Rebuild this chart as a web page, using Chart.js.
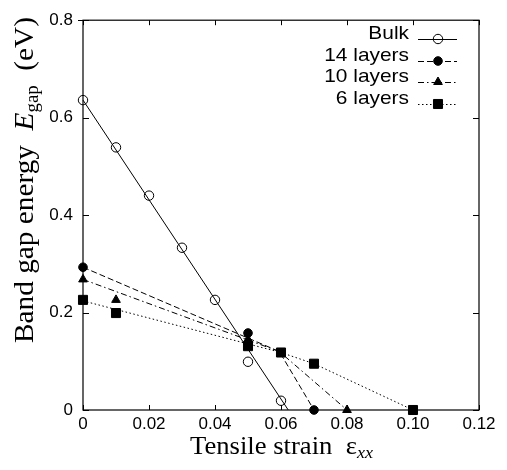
<!DOCTYPE html>
<html><head><meta charset="utf-8">
<script src="https://cdn.jsdelivr.net/npm/chart.js@4/dist/chart.umd.min.js"></script>
<style>html,body{margin:0;padding:0;background:#fff}#wrap{width:507px;height:470px;position:relative}</style>
</head><body><div id="wrap"><canvas id="c"></canvas></div>
<script>
const seriesNames = ['Bulk', '14 layers', '10 layers', '6 layers'];
const bulkStrain = [0, 0.01, 0.02, 0.03, 0.04, 0.05, 0.06];
const bulkGap = [0.636, 0.539, 0.440, 0.333, 0.226, 0.099, 0.019];
const bulkFitStrain = [0, 0.0622];
const bulkFitGap = [0.636, 0];
const l14Strain = [0, 0.05, 0.07];
const l14Gap = [0.293, 0.158, 0];
const l14FitStrain = [0, 0.0595, 0.07];
const l14FitGap = [0.293, 0.12, 0];
const l10Strain = [0, 0.01, 0.05, 0.08];
const l10Gap = [0.268, 0.226, 0.145, 0];
const l10FitStrain = [0, 0.0595, 0.08];
const l10FitGap = [0.268, 0.12, 0];
const l6Strain = [0, 0.01, 0.05, 0.06, 0.07, 0.10];
const l6Gap = [0.226, 0.199, 0.131, 0.118, 0.095, 0];
const l6FitStrain = [0, 0.06, 0.07, 0.10];
const l6FitGap = [0.224, 0.118, 0.095, 0];
const xTickValues = [0, 0.02, 0.04, 0.06, 0.08, 0.10, 0.12];
const xTickLabels = ['0', '0.02', '0.04', '0.06', '0.08', '0.10', '0.12'];
const yTickValues = [0, 0.2, 0.4, 0.6, 0.8];
const yTickLabels = ['0', '0.2', '0.4', '0.6', '0.8'];

const zip = (xs, ys) => xs.map((x, i) => ({x: x, y: ys[i]}));

const styles = [
  {dash: [], pointStyle: 'circle', radius: 4.7, fill: 'rgba(0,0,0,0)'},
  {dash: [6, 3], pointStyle: 'circle', radius: 4.3, fill: '#000'},
  {dash: [6, 3, 1.5, 3], pointStyle: 'triangle', radius: 5, fill: '#000'},
  {dash: [1.5, 2.5], pointStyle: 'rect', radius: 6.4, fill: '#000'}
];
const pts = [zip(bulkStrain, bulkGap), zip(l14Strain, l14Gap), zip(l10Strain, l10Gap), zip(l6Strain, l6Gap)];
const fits = [zip(bulkFitStrain, bulkFitGap), zip(l14FitStrain, l14FitGap), zip(l10FitStrain, l10FitGap), zip(l6FitStrain, l6FitGap)];

const datasets = [];
seriesNames.forEach((name, i) => {
  datasets.push({label: name + ' fit', data: fits[i], showLine: true, pointRadius: 0,
    borderColor: '#000', borderWidth: 1, borderDash: styles[i].dash, fill: false, clip: false});
  datasets.push({label: name, data: pts[i], showLine: false, pointStyle: styles[i].pointStyle,
    pointRadius: styles[i].radius, pointBackgroundColor: styles[i].fill, pointBorderColor: '#000',
    pointBorderWidth: 1, clip: false});
});

function drawRich(ctx, segs, scaleTo) {
  let total = 0;
  segs.forEach(s => { ctx.font = s.font; s.w = ctx.measureText(s.t).width; total += s.w; });
  const k = scaleTo / total;
  ctx.save();
  ctx.scale(k, 1);
  let x = 0;
  segs.forEach(s => { ctx.font = s.font; ctx.fillText(s.t, x, s.dy || 0); x += s.w; });
  ctx.restore();
}

const framePlugin = {
  id: 'frame',
  afterDraw(chart) {
    const ctx = chart.ctx, a = chart.chartArea;
    const xs = chart.scales.x, ys = chart.scales.y;
    ctx.save();
    ctx.strokeStyle = '#000'; ctx.lineWidth = 1.2; ctx.setLineDash([]);
    ctx.strokeRect(a.left, a.top, a.right - a.left, a.bottom - a.top);
    ctx.lineWidth = 1;
    ctx.beginPath();
    xTickValues.forEach(v => {
      const px = Math.round(xs.getPixelForValue(v)) + 0.5;
      ctx.moveTo(px, a.bottom); ctx.lineTo(px, a.bottom - 5);
      ctx.moveTo(px, a.top); ctx.lineTo(px, a.top + 5);
    });
    yTickValues.forEach(v => {
      const py = Math.round(ys.getPixelForValue(v)) + 0.5;
      ctx.moveTo(a.left, py); ctx.lineTo(a.left + 6, py);
      ctx.moveTo(a.right, py); ctx.lineTo(a.right - 6, py);
    });
    const top = Math.round(ys.getPixelForValue(0.8)) + 0.5;
    ctx.moveTo(a.left - 5, top); ctx.lineTo(a.left, top);
    ctx.stroke();

    // legend
    const rowY = [39, 61, 82, 104];
    ctx.fillStyle = '#000';
    ctx.textAlign = 'right'; ctx.textBaseline = 'middle';
    seriesNames.forEach((name, i) => {
      const y = rowY[i];
      ctx.save();
      ctx.font = '19px "Liberation Sans", Arial, sans-serif';
      ctx.translate(409, y - 5);
      ctx.scale(1.1, 1);
      ctx.fillText(name, 0, 0);
      ctx.restore();
      ctx.save();
      ctx.setLineDash(styles[i].dash);
      ctx.lineWidth = 1;
      ctx.beginPath(); ctx.moveTo(418, y + 0.5); ctx.lineTo(457, y + 0.5); ctx.stroke();
      ctx.restore();
      ctx.save();
      ctx.setLineDash([]);
      ctx.fillStyle = styles[i].fill; ctx.strokeStyle = '#000'; ctx.lineWidth = 1;
      Chart.helpers.drawPoint(ctx, {pointStyle: styles[i].pointStyle, radius: styles[i].radius, borderWidth: 1, rotation: 0}, 438, y);
      ctx.restore();
    });

    // axis titles
    ctx.fillStyle = '#000';
    ctx.textAlign = 'left'; ctx.textBaseline = 'alphabetic';
    ctx.save();
    ctx.translate(190, 454);
    drawRich(ctx, [
      {t: 'Tensile strain  ', font: '25px "Liberation Serif", serif'},
      {t: 'ε', font: '25px "Liberation Serif", serif'},
      {t: 'xx', font: 'italic 17px "Liberation Serif", serif', dy: 4}
    ], 183);
    ctx.restore();
    ctx.save();
    ctx.translate(33, 343);
    ctx.rotate(-Math.PI / 2);
    drawRich(ctx, [
      {t: 'Band gap energy  ', font: '28px "Liberation Serif", serif'},
      {t: 'E', font: 'italic 28px "Liberation Serif", serif'},
      {t: 'gap', font: '18px "Liberation Serif", serif', dy: 5},
      {t: '  (eV)', font: '28px "Liberation Serif", serif'}
    ], 326);
    ctx.restore();
    ctx.restore();
  }
};

new Chart(document.getElementById('c'), {
  type: 'scatter',
  data: {datasets: datasets},
  options: {
    responsive: true, maintainAspectRatio: false, animation: false,
    layout: {padding: {left: 0, right: 28, top: 14, bottom: 0}},
    plugins: {legend: {display: false}, tooltip: {enabled: false}},
    scales: {
      x: {
        type: 'linear', min: 0, max: 0.12,
        afterBuildTicks: s => { s.ticks = xTickValues.map(v => ({value: v})); },
        afterFit: s => { s.height = 60; },
        grid: {display: false, drawTicks: false}, border: {display: false},
        ticks: {padding: 4, color: '#000', maxRotation: 0, autoSkip: false,
          font: {family: '"Liberation Sans", Arial, sans-serif', size: 17},
          callback: (v, i) => xTickLabels[i]}
      },
      y: {
        type: 'linear', min: 0, max: 0.8,
        afterBuildTicks: s => { s.ticks = yTickValues.map(v => ({value: v})); },
        afterFit: s => { s.width = 83; },
        grid: {display: false, drawTicks: false}, border: {display: false},
        ticks: {padding: 10, color: '#000', autoSkip: false,
          font: {family: '"Liberation Sans", Arial, sans-serif', size: 17},
          callback: (v, i) => yTickLabels[i]}
      }
    }
  },
  plugins: [framePlugin]
});
</script>
</body></html>
